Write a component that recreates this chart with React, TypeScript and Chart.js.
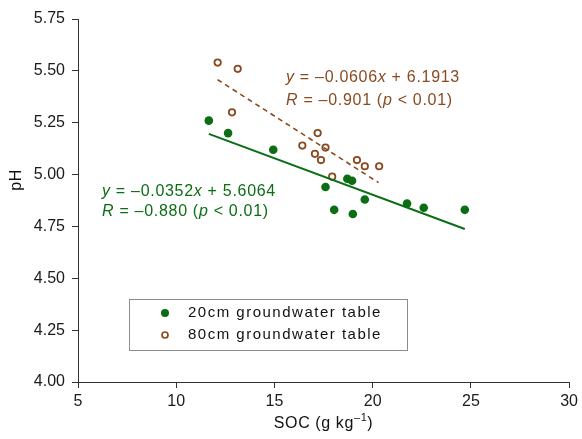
import React, { useEffect, useRef } from "react";
import { Chart, registerables } from "chart.js";

Chart.register(...registerables);

// ---- Data ----
const soc20 = [11.66, 12.64, 14.94, 17.6, 18.04, 18.71, 18.95, 18.99, 19.6, 21.75, 22.6, 24.69];
const ph20 = [5.26, 5.2, 5.12, 4.94, 4.83, 4.98, 4.97, 4.81, 4.88, 4.86, 4.84, 4.83];
const soc80 = [12.11, 13.13, 12.84, 16.42, 17.2, 17.6, 17.06, 17.37, 17.94, 19.2, 19.6, 20.33];
const ph80 = [5.54, 5.51, 5.3, 5.14, 5.2, 5.13, 5.1, 5.07, 4.99, 5.07, 5.04, 5.04];

// regression lines as printed on the figure
const fit20 = { slope: -0.0352, intercept: 5.6064, xFrom: 11.66, xTo: 24.69 };
const fit80 = { slope: -0.0606, intercept: 6.1913, xFrom: 12.1, xTo: 20.3 };

const xTicks = [5, 10, 15, 20, 25, 30];
const yTicks = [4.0, 4.25, 4.5, 4.75, 5.0, 5.25, 5.5, 5.75];

const seriesNames = ["20cm groundwater table", "80cm groundwater table"];
const xTitle = "SOC (g kg";
const xTitleSup = "\u20131";
const yTitle = "pH";

const GREEN = "#0b6e14";
const BROWN = "#8a4a1f";
const FONT = '"Liberation Sans", Arial, sans-serif';

type Seg = { t: string; i?: boolean };
const eq80: Seg[][] = [
  [{ t: "y", i: true }, { t: " = \u20130.0606" }, { t: "x", i: true }, { t: " + 6.1913" }],
  [{ t: "R", i: true }, { t: " = \u20130.901 (" }, { t: "p", i: true }, { t: " < 0.01)" }],
];
const eq20: Seg[][] = [
  [{ t: "y", i: true }, { t: " = \u20130.0352" }, { t: "x", i: true }, { t: " + 5.6064" }],
  [{ t: "R", i: true }, { t: " = \u20130.880 (" }, { t: "p", i: true }, { t: " < 0.01)" }],
];

function drawRich(ctx: CanvasRenderingContext2D, segs: Seg[], x: number, y: number, size: number, color: string) {
  ctx.fillStyle = color;
  ctx.textBaseline = "middle";
  ctx.textAlign = "left";
  let cx = x;
  for (const s of segs) {
    ctx.font = `${s.i ? "italic " : ""}${size}px ${FONT}`;
    ctx.fillText(s.t, cx, y);
    cx += ctx.measureText(s.t).width;
  }
}

const decorPlugin = {
  id: "decor",
  afterDraw(chart: any) {
    const ctx: CanvasRenderingContext2D = chart.ctx;
    const ca = chart.chartArea;
    ctx.save();
    (ctx as any).letterSpacing = "0.7px";
    // equations
    drawRich(ctx, eq80[0], ca.left + 208, ca.top + 59, 16, BROWN);
    drawRich(ctx, eq80[1], ca.left + 208, ca.top + 82, 16, BROWN);
    drawRich(ctx, eq20[0], ca.left + 24, ca.top + 173, 16, GREEN);
    drawRich(ctx, eq20[1], ca.left + 24, ca.top + 193, 16, GREEN);

    // legend box
    const bx = ca.left + 51, by = ca.top + 280, bw = 278, bh = 51;
    ctx.strokeStyle = "#8c8c8c";
    ctx.lineWidth = 1;
    ctx.strokeRect(bx + 0.5, by + 0.5, bw, bh);
    (ctx as any).letterSpacing = "1.5px";
    ctx.font = `15px ${FONT}`;
    ctx.fillStyle = "#111";
    ctx.textBaseline = "middle";
    ctx.textAlign = "left";
    const rows = [by + 14, by + 36];
    // green marker
    ctx.beginPath();
    ctx.arc(bx + 36, rows[0], 4, 0, Math.PI * 2);
    ctx.fillStyle = GREEN;
    ctx.fill();
    // brown open marker
    ctx.beginPath();
    ctx.arc(bx + 36, rows[1], 3, 0, Math.PI * 2);
    ctx.strokeStyle = BROWN;
    ctx.lineWidth = 1.7;
    ctx.stroke();
    ctx.fillStyle = "#111";
    ctx.fillText(seriesNames[0], bx + 59, rows[0]);
    ctx.fillText(seriesNames[1], bx + 59, rows[1]);

    // axis titles
    (ctx as any).letterSpacing = "0.6px";
    ctx.fillStyle = "#111";
    ctx.font = `16px ${FONT}`;
    const mainW = ctx.measureText(xTitle).width;
    ctx.font = `11px ${FONT}`;
    const supW = ctx.measureText(xTitleSup).width;
    ctx.font = `16px ${FONT}`;
    const closeW = ctx.measureText(")").width;
    const total = mainW + supW + closeW;
    const cx = (ca.left + ca.right) / 2;
    let tx = cx - total / 2;
    const ty = 424;
    ctx.textAlign = "left";
    ctx.fillText(xTitle, tx, ty);
    tx += mainW;
    ctx.font = `11px ${FONT}`;
    ctx.fillText(xTitleSup, tx, ty - 6);
    tx += supW;
    ctx.font = `16px ${FONT}`;
    ctx.fillText(")", tx, ty);

    ctx.translate(17, 180);
    ctx.rotate(-Math.PI / 2);
    ctx.textAlign = "center";
    ctx.fillText(yTitle, 0, 0);
    ctx.restore();
  },
};

export default function App() {
  const ref = useRef<HTMLCanvasElement | null>(null);
  useEffect(() => {
    document.body.style.margin = "0";
    if (!ref.current) return;
    const pts = (xs: number[], ys: number[]) => xs.map((x, i) => ({ x, y: ys[i] }));
    const line = (f: typeof fit20) => [
      { x: f.xFrom, y: f.slope * f.xFrom + f.intercept },
      { x: f.xTo, y: f.slope * f.xTo + f.intercept },
    ];
    const chart = new Chart(ref.current, {
      type: "scatter",
      data: {
        datasets: [
          {
            type: "line",
            label: "fit20",
            data: line(fit20),
            borderColor: GREEN,
            borderWidth: 2,
            pointRadius: 0,
            fill: false,
          } as any,
          {
            type: "line",
            label: "fit80",
            data: line(fit80),
            borderColor: BROWN,
            borderWidth: 1.6,
            borderDash: [5, 4],
            pointRadius: 0,
            fill: false,
          } as any,
          {
            label: seriesNames[0],
            data: pts(soc20, ph20),
            backgroundColor: GREEN,
            borderColor: GREEN,
            borderWidth: 0,
            pointRadius: 4.3,
          },
          {
            label: seriesNames[1],
            data: pts(soc80, ph80),
            backgroundColor: "#ffffff",
            borderColor: BROWN,
            borderWidth: 1.8,
            pointRadius: 3.2,
          },
        ],
      },
      options: {
        animation: false,
        responsive: false,
        maintainAspectRatio: false,
        layout: { padding: { top: 19, right: 10, left: 0, bottom: 0 } },
        plugins: { legend: { display: false }, tooltip: { enabled: false } },
        scales: {
          x: {
            type: "linear",
            min: 5,
            max: 30,
            afterBuildTicks: (s: any) => {
              s.ticks = xTicks.map((v) => ({ value: v }));
            },
            afterFit: (s: any) => {
              s.height = 57;
            },
            grid: { drawOnChartArea: false, drawTicks: true, tickLength: 6, color: "#333" },
            border: { display: true, color: "#333", width: 1 },
            ticks: {
              color: "#1a1a1a",
              font: { size: 16, family: FONT },
              padding: 4,
              maxRotation: 0,
              callback: (v: any) => String(v),
            },
          },
          y: {
            type: "linear",
            min: 4,
            max: 5.75,
            afterBuildTicks: (s: any) => {
              s.ticks = yTicks.map((v) => ({ value: v }));
            },
            afterFit: (s: any) => {
              s.width = 78;
            },
            grid: { drawOnChartArea: false, drawTicks: true, tickLength: 6, color: "#333" },
            border: { display: true, color: "#333", width: 1 },
            ticks: {
              color: "#1a1a1a",
              font: { size: 16, family: FONT },
              padding: 7,
              callback: (v: any) => Number(v).toFixed(2),
            },
          },
        },
      },
      plugins: [decorPlugin],
    });
    return () => chart.destroy();
  }, []);
  return (
    <div style={{ position: "fixed", left: 0, top: 0, width: 582, height: 439, background: "#fff" }}>
      <canvas ref={ref} width={582} height={439} style={{ width: 582, height: 439 }} />
    </div>
  );
}
